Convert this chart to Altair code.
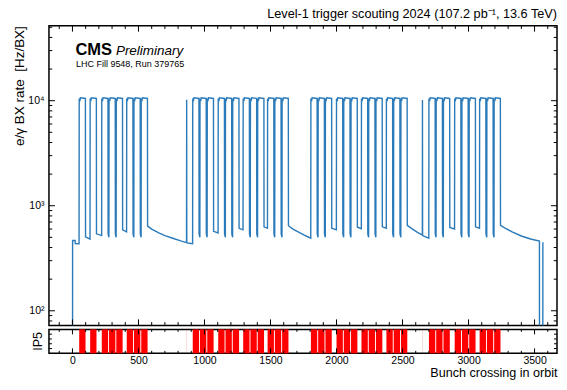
import altair as alt
import pandas as pd

FONT = "Liberation Sans"
BLUE = "#2b7bba"
RED = "#ff0000"

# ---------------- values ----------------
# LHC filling (IP5 panel): injection start bunch crossing and number of 48-bunch trains per injection
inj_start = [51, 134, 222, 411, 911, 1104, 1293, 1478, 1806, 2000, 2189, 2378, 2700, 2895, 3084]
inj_trains = [1, 1, 3, 3, 3, 3, 3, 3, 3, 3, 3, 3, 3, 3, 3]
train_len = 48
train_gap = 7
isolated_bx = [865, 2651]
isolated_rate = [10200, 10150]

# rate along a filled train: offset (BX) from the train start and rate (Hz/BX)
plateau_off = [0, 5, 9, 47]
plateau_rate = [10500, 9900, 10650, 10500]
# empty crossings between trains of one injection (first, last)
intra_gap_rate = [540, 500]

# empty crossings between injections (afterglow), read along the lower envelope
afterglow_bx = [0, 1, 20, 21, 50,
                99, 133,
                182, 221,
                380, 410,
                569, 600, 650, 700, 760, 820, 864, 866, 910,
                1069, 1103,
                1262, 1292,
                1451, 1477,
                1636, 1670, 1720, 1770, 1805,
                1964, 1999,
                2158, 2188,
                2347, 2377,
                2536, 2570, 2610, 2650, 2652, 2699,
                2858, 2894,
                3053, 3083,
                3242, 3280, 3330, 3400, 3470, 3537, 3538, 3562, 3563]
afterglow_rate = [1, 467, 467, 436, 434,
                  505, 480,
                  540, 520,
                  590, 565,
                  640, 600, 555, 520, 490, 462, 445, 442, 436,
                  570, 550,
                  610, 590,
                  630, 610,
                  645, 600, 555, 515, 492,
                  610, 590,
                  625, 605,
                  630, 610,
                  650, 605, 560, 525, 520, 492,
                  620, 600,
                  630, 610,
                  650, 610, 565, 515, 482, 460, 1, 1, 450]

X_DOMAIN = [-178, 3670]
Y_DOMAIN = [72.6, 51800]

# axis ticks and labels
x_major = [0, 500, 1000, 1500, 2000, 2500, 3000, 3500]
x_minor = [v for v in range(-100, 3700, 100) if v % 500 != 0 and X_DOMAIN[0] < v < X_DOMAIN[1]]
y_major = [100, 1000, 10000]
y_minor = [80, 90, 200, 300, 400, 500, 600, 700, 800, 900,
           2000, 3000, 4000, 5000, 6000, 7000, 8000, 9000,
           20000, 30000, 40000, 50000]
ip5_ticks = [0.2, 0.4, 0.6, 0.8]

title_text = "Level-1 trigger scouting 2024 (107.2 pb\u207b\u00b9, 13.6 TeV)"
cms_text = ["CMS"]
prelim_text = ["Preliminary"]
fill_text = ["LHC Fill 9548, Run 379765"]
y_title = "e/\u03b3 BX rate\u00a0 [Hz/BX]"
x_title = "Bunch crossing in orbit"
ip5_label = ["IP5"]

# ---------------- build tables ----------------
pts = []
bars = []
for s, n in zip(inj_start, inj_trains):
    for k in range(n):
        t0 = s + k * (train_len + train_gap)
        bars.append((t0, t0 + train_len))
        for off, r in zip(plateau_off, plateau_rate):
            pts.append((t0 + off, r))
        if k < n - 1:
            e = t0 + train_len - 1
            pts.append((e + 1, intra_gap_rate[0]))
            pts.append((e + train_gap, intra_gap_rate[1]))
for b, r in zip(isolated_bx, isolated_rate):
    pts.append((b, r))
    bars.append((b, b + 1))
pts += list(zip(afterglow_bx, afterglow_rate))
pts.sort()
line_df = pd.DataFrame(pts, columns=["bx", "rate"])
bars_df = pd.DataFrame(bars, columns=["x0", "x1"])

W = 508.5
H_TOP = 300
H_BOT = 24

xs = alt.Scale(domain=X_DOMAIN, nice=False, zero=False)
ys = alt.Scale(type="log", domain=Y_DOMAIN, nice=False)

yaxis = alt.Axis(values=y_major,
                 labelExpr="datum.value == 100 ? '10\u00b2' : datum.value == 1000 ? '10\u00b3' : '10\u2074'",
                 ticks=False, tickSize=0, domain=False, grid=False,
                 labelPadding=5, labelFontSize=10.5, labelFont=FONT, labelColor="black",
                 title=y_title, titleFont=FONT, titleFontSize=13.5, titleFontWeight="normal",
                 titleAnchor="end", titlePadding=1, titleColor="black")

xaxis = alt.Axis(values=x_major, format="d", ticks=False, tickSize=0, domain=False, grid=False,
                 labelPadding=2, labelFontSize=10.5, labelFont=FONT, labelColor="black", labelFlush=False,
                 title=x_title, titleFont=FONT, titleFontSize=12.6, titleFontWeight="normal",
                 titleAnchor="end", titlePadding=1, titleColor="black")

X_up = alt.X("bx:Q", scale=xs, axis=None)
Y_up = alt.Y("rate:Q", scale=ys, axis=yaxis)

line = alt.Chart(line_df).mark_line(clip=True, color=BLUE, strokeWidth=1.4).encode(x=X_up, y=Y_up)

layers = [line]
xt_major = pd.DataFrame({"bx": x_major})
xt_minor = pd.DataFrame({"bx": x_minor})
for df, ln in ((xt_major, 6), (xt_minor, 3.3)):
    layers.append(alt.Chart(df).mark_rule(color="black", strokeWidth=1).encode(
        x=X_up, y=alt.value(H_TOP), y2=alt.value(H_TOP - ln)))
    layers.append(alt.Chart(df).mark_rule(color="black", strokeWidth=1).encode(
        x=X_up, y=alt.value(0), y2=alt.value(ln)))
yt_major = pd.DataFrame({"rate": y_major})
yt_minor = pd.DataFrame({"rate": y_minor})
for df, ln in ((yt_major, 6), (yt_minor, 3.3)):
    layers.append(alt.Chart(df).mark_rule(color="black", strokeWidth=1).encode(
        y=Y_up, x=alt.value(0), x2=alt.value(ln)))
    layers.append(alt.Chart(df).mark_rule(color="black", strokeWidth=1).encode(
        y=Y_up, x=alt.value(W), x2=alt.value(W - ln)))

layers.append(alt.Chart(pd.DataFrame({"t": cms_text})).mark_text(
    font=FONT, fontSize=16.5, fontWeight="bold", align="left", baseline="alphabetic", color="black"
).encode(text="t:N", x=alt.value(26.5), y=alt.value(29)))
layers.append(alt.Chart(pd.DataFrame({"t": prelim_text})).mark_text(
    font=FONT, fontSize=13.5, fontStyle="italic", align="left", baseline="alphabetic", color="black"
).encode(text="t:N", x=alt.value(67), y=alt.value(29)))
layers.append(alt.Chart(pd.DataFrame({"t": fill_text})).mark_text(
    font=FONT, fontSize=9, align="left", baseline="alphabetic", color="black"
).encode(text="t:N", x=alt.value(27), y=alt.value(41.5)))

upper = alt.layer(*layers).properties(
    width=W, height=H_TOP,
    title=alt.TitleParams(text=title_text, anchor="end", frame="group", fontSize=12.7,
                          fontWeight="normal", font=FONT, color="black", offset=4.5))

# ---------------- lower IP5 panel ----------------
X_lo = alt.X("x0:Q", scale=xs, axis=xaxis)
rects = alt.Chart(bars_df).mark_rect(color=RED).encode(
    x=X_lo, x2="x1:Q", y=alt.value(0), y2=alt.value(H_BOT))

lo_layers = [rects]
xl_major = pd.DataFrame({"x0": x_major})
xl_minor = pd.DataFrame({"x0": x_minor})
for df, ln in ((xl_major, 5), (xl_minor, 2.5)):
    lo_layers.append(alt.Chart(df).mark_rule(color="black", strokeWidth=1).encode(
        x=X_lo, y=alt.value(H_BOT), y2=alt.value(H_BOT - ln)))
    lo_layers.append(alt.Chart(df).mark_rule(color="black", strokeWidth=1).encode(
        x=X_lo, y=alt.value(0), y2=alt.value(ln)))
Y_lo = alt.Y("f:Q", scale=alt.Scale(domain=[0, 1], nice=False), axis=None)
ipt = pd.DataFrame({"f": ip5_ticks})
lo_layers.append(alt.Chart(ipt).mark_rule(color="black", strokeWidth=1).encode(
    y=Y_lo, x=alt.value(0), x2=alt.value(3)))
lo_layers.append(alt.Chart(ipt).mark_rule(color="black", strokeWidth=1).encode(
    y=Y_lo, x=alt.value(W), x2=alt.value(W - 3)))
lo_layers.append(alt.Chart(pd.DataFrame({"t": ip5_label})).mark_text(
    font=FONT, fontSize=12.5, angle=270, align="center", baseline="middle", color="black"
).encode(text="t:N", x=alt.value(-11), y=alt.value(H_BOT / 2)))

lower = alt.layer(*lo_layers).properties(width=W, height=H_BOT)

chart = alt.vconcat(upper, lower, spacing=4).properties(
    bounds="flush",
    padding={"left": 4, "top": -1.5, "right": 0, "bottom": 0}
).configure_view(stroke="black", strokeWidth=1.5)

chart.save("out.html", embed_options={"renderer": "svg", "actions": False})
